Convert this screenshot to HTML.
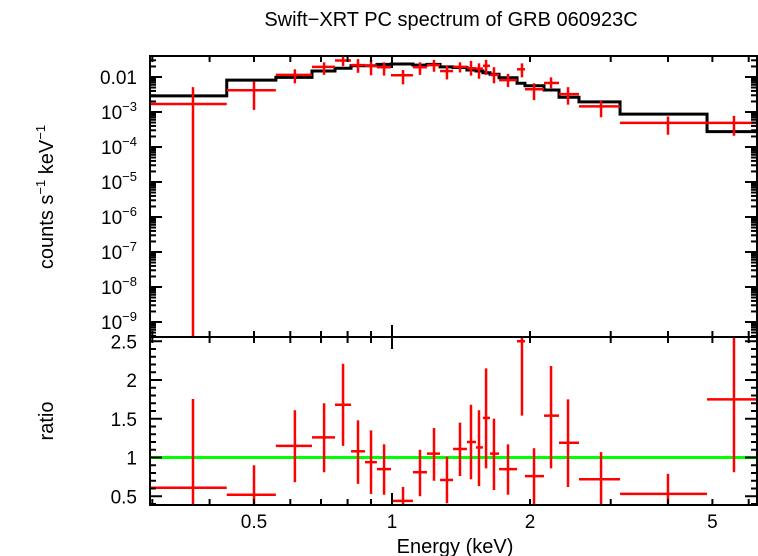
<!DOCTYPE html>
<html><head><meta charset="utf-8">
<style>
html,body{margin:0;padding:0;background:#fff;}
svg{display:block;font-family:"Liberation Sans",sans-serif;}
</style></head>
<body>
<svg id="chart" width="758" height="556" viewBox="0 0 758 556" xmlns="http://www.w3.org/2000/svg">
<text x="451" y="26" font-size="20" text-anchor="middle">Swift−XRT PC spectrum of GRB 060923C</text>
<g id="topPanel"></g>
<g id="botPanel"></g>
<text transform="translate(53,197) rotate(-90)" font-size="20" text-anchor="middle">counts s<tspan font-size="13" dy="-8">−1</tspan><tspan dy="8"> keV</tspan><tspan font-size="13" dy="-8">−1</tspan></text>
<text transform="translate(53,421) rotate(-90)" font-size="20" text-anchor="middle">ratio</text>
<text x="455" y="553" font-size="20" text-anchor="middle">Energy (keV)</text>
</svg>
<script>
// bin edges (keV)
const binEdges = [0.297,0.436,0.558,0.669,0.751,0.814,0.873,0.927,0.995,1.111,1.192,1.273,1.359,1.457,1.525,1.579,1.636,1.712,1.874,1.950,2.146,2.314,2.558,3.144,4.867,6.256];
const binCenters = [0.368,0.500,0.614,0.711,0.782,0.843,0.900,0.961,1.057,1.151,1.235,1.318,1.407,1.487,1.548,1.604,1.669,1.791,1.921,2.041,2.223,2.421,2.858,4.000,5.572];
// log10 counts
const countsLog = [-2.77,-2.38,-1.94,-1.71,-1.53,-1.66,-1.68,-1.72,-1.95,-1.72,-1.66,-1.83,-1.71,-1.75,-1.76,-1.68,-1.94,-2.09,-1.78,-2.35,-2.17,-2.49,-2.84,-3.31,-3.31];
const countsHiLog = [-2.29,-2.13,-1.78,-1.58,-1.37,-1.49,-1.51,-1.58,-1.80,-1.58,-1.51,-1.68,-1.58,-1.54,-1.61,-1.51,-1.72,-1.91,-1.61,-2.18,-2.01,-2.29,-2.68,-3.13,-3.11];
const countsLoLog = [-12,-2.94,-2.18,-1.94,-1.69,-1.88,-1.95,-1.96,-2.21,-1.94,-1.85,-2.07,-1.87,-1.96,-2.05,-1.94,-2.18,-2.29,-2.01,-2.66,-2.32,-2.79,-3.15,-3.65,-3.68];
const modelLog = [-2.54,-2.09,-2.01,-1.83,-1.75,-1.68,-1.68,-1.64,-1.63,-1.66,-1.64,-1.71,-1.73,-1.80,-1.83,-1.88,-1.92,-2.02,-2.18,-2.25,-2.37,-2.58,-2.71,-3.06,-3.56];
const ratio = [0.61,0.52,1.15,1.26,1.68,1.08,0.94,0.85,0.44,0.81,1.05,0.71,1.11,1.20,1.13,1.51,1.05,0.85,2.50,0.76,1.54,1.19,0.72,0.53,1.75];
const ratioHi = [1.755,0.90,1.61,1.70,2.21,1.48,1.35,1.17,0.62,1.10,1.38,1.01,1.45,1.68,1.61,2.15,1.50,1.17,3.0,1.12,2.18,1.75,1.07,0.79,3.0];
const ratioLo = [0,0,0.68,0.81,1.15,0.66,0.53,0.52,0,0.50,0.70,0.41,0.76,0.72,0.63,0.86,0.58,0.52,1.54,0.40,0.86,0.62,0,0,0.81];
const xLabels = [0.5,1,2,5];
const topLabels = ["0.01","10|−3","10|−4","10|−5","10|−6","10|−7","10|−8","10|−9"];
const botLabels = [0.5,1,1.5,2,2.5];

const L=150,R=757,TT=56,TB=337,BT=337,BB=505;
const X = e => 392 + 458.4*Math.log10(e);
const YT = lg => 77 - 35*(lg+2);
const YB = r => 457.5 - 77.5*(r-1);
const NS="http://www.w3.org/2000/svg";
const svgEl=document.getElementById('chart');
const topG=document.getElementById('topPanel'), botG=document.getElementById('botPanel');
function mk(tag,at,parent){const e=document.createElementNS(NS,tag);for(const k in at)e.setAttribute(k,at[k]);parent.appendChild(e);return e;}
function line(p,x1,y1,x2,y2,c,w){return mk('line',{x1,y1,x2,y2,stroke:c,'stroke-width':w},p);}

const defs=mk('defs',{},svgEl);
const c1=mk('clipPath',{id:'ct'},defs); mk('rect',{x:L,y:TT,width:R-L,height:TB-TT},c1);
const c2=mk('clipPath',{id:'cb'},defs); mk('rect',{x:L,y:BT,width:R-L,height:BB-BT},c2);
const gt=mk('g',{'clip-path':'url(#ct)'},topG);
const gb=mk('g',{'clip-path':'url(#cb)'},botG);

let d='';
for(let i=0;i<modelLog.length;i++){const y=YT(modelLog[i]);d+=(i?'L':'M')+X(binEdges[i])+','+y+'L'+X(binEdges[i+1])+','+y;}
const mp=mk('path',{d,fill:'none',stroke:'#000','stroke-width':3},gt);



const gl=line(gb,L,YB(1),R,YB(1),'#00ff00',3);



for(let i=0;i<binCenters.length;i++){
  const x0=X(binEdges[i]),x1=X(binEdges[i+1]),xc=X(binCenters[i]);
  const g=mk('g',{},gt);
  
  
  line(g,x0,YT(countsLog[i]),x1,YT(countsLog[i]),'#ff0000',2.5);
  line(g,xc,YT(countsHiLog[i]),xc,YT(countsLoLog[i]),'#ff0000',2.5);
  const h=mk('g',{},gb);
  
  
  line(h,x0,YB(ratio[i]),x1,YB(ratio[i]),'#ff0000',2.5);
  line(h,xc,YB(ratioHi[i]),xc,YB(ratioLo[i]),'#ff0000',2.5);
}

for(const [p,y0,y1] of [[topG,TT,TB],[botG,BT,BB]]){
  const r=mk('rect',{x:L,y:y0,width:R-L,height:y1-y0,fill:'none',stroke:'#000','stroke-width':2},p);
  
  
}
const xt=[0.3,0.4,0.5,0.6,0.7,0.8,0.9,1,2,3,4,5,6];
for(const e of xt){const x=X(e);if(x<L||x>R)continue;const len=(e===1)?12:6;
  line(topG,x,TT,x,TT+len,'#000',2);line(topG,x,TB,x,TB-len,'#000',2);
  line(botG,x,BT,x,BT+len,'#000',2);line(botG,x,BB,x,BB-len,'#000',2);}
xLabels.forEach(e=>{const t=mk('text',{x:X(e),y:528,'font-size':19,'text-anchor':'middle'},svgEl);t.textContent=String(e);
  
  });
for(let dec=-10;dec<=-1;dec++){for(let m=1;m<10;m++){const y=YT(dec+Math.log10(m));if(y<TT||y>TB)continue;const len=m===1?12:6;
  line(topG,L,y,L+len,y,'#000',2);line(topG,R,y,R-len,y,'#000',2);}}
topLabels.forEach((s,i)=>{const y=YT(-2-i)+7;const t=mk('text',{x:137,y,'font-size':19,'text-anchor':'end'},svgEl);
  
  
  const p=s.split('|');if(p.length===1)t.textContent=p[0];else{t.textContent=p[0];const ts=mk('tspan',{'font-size':13,dy:-8},t);ts.textContent=p[1];}});
for(let k=4;k<=25;k++){const r=k/10;const y=YB(r);if(y<BT||y>BB)continue;const len=(k%5===0)?12:6;
  line(botG,L,y,L+len,y,'#000',2);line(botG,R,y,R-len,y,'#000',2);}
botLabels.forEach(r=>{const t=mk('text',{x:137,y:YB(r)+7,'font-size':19,'text-anchor':'end'},svgEl);t.textContent=String(r);
  
  });
</script>
</body></html>
